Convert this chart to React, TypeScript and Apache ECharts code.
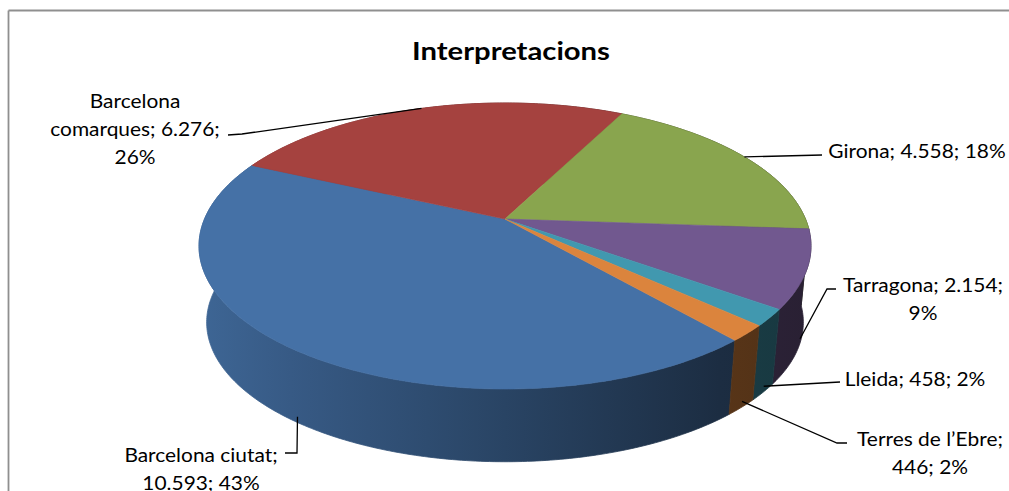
import { useEffect, useRef } from "react";
import * as echarts from "echarts";

// Interpretacions per demarcació
const categories = [
  "Barcelona ciutat",
  "Barcelona comarques",
  "Girona",
  "Tarragona",
  "Lleida",
  "Terres de l’Ebre",
];
const values = [10593, 6276, 4558, 2154, 458, 446];
const percents = [43, 26, 18, 9, 2, 2];
const sliceColors = ["#4571A6", "#A5423F", "#89A54E", "#71588F", "#4198AF", "#DB843D"];

// words after which each data label wraps onto a new line
const labelBreaks = [[2], [1, 3], [], [2], [], [3]];

// clockwise from 12 o'clock, in degrees
const FIRST_SLICE_ANGLE = 139;

// projective view of the pie: top disc and bottom disc
const geo = {
  cx: 505,
  cy: 219,
  sx: 300.5,
  sy: 137.9,
  k: 0.1888,
  bottomCy: 296,
  bottomScale: 0.975,
};

// label block centres and leader-line bends
const labelLayout = [
  { x: 201, y: 468, line: [[297, 453], [285, 453]] },
  { x: 135, y: 128.5, line: [[242, 134], [228, 135]] },
  { x: 917, y: 150, line: [[822, 155]] },
  { x: 923, y: 298.5, line: [[827, 289], [836, 289]] },
  { x: 915, y: 378, line: [[840, 382]] },
  { x: 930, y: 452, line: [[837, 443], [847, 443]] },
];

const FONT = "Lato, 'Open Sans', 'DejaVu Sans', sans-serif";

const fmt = (n: number) => String(n).replace(/\B(?=(\d{3})+(?!\d))/g, ".");

function project(angleDeg: number, level: number): [number, number] {
  const a = (angleDeg * Math.PI) / 180;
  const X = Math.cos(a);
  const Y = Math.sin(a);
  const d = 1 + geo.k * Y;
  const sc = 1 + (geo.bottomScale - 1) * level;
  const cy = geo.cy + (geo.bottomCy - geo.cy) * level;
  return [geo.cx + (geo.sx * sc * X) / d, cy - (geo.sy * sc * Y) / d];
}

function arc(a0: number, a1: number, level: number): [number, number][] {
  const n = Math.max(2, Math.ceil(Math.abs(a1 - a0) / 0.75));
  const pts: [number, number][] = [];
  for (let i = 0; i <= n; i++) pts.push(project(a0 + ((a1 - a0) * i) / n, level));
  return pts;
}

function shade(hex: string, f: number) {
  const v = parseInt(hex.slice(1), 16);
  const r = Math.round(((v >> 16) & 255) * f);
  const g = Math.round(((v >> 8) & 255) * f);
  const b = Math.round((v & 255) * f);
  return `rgb(${r},${g},${b})`;
}

function sideGradient(hex: string) {
  const left = geo.cx - geo.sx * 1.02;
  const right = geo.cx + geo.sx * 1.02;
  return new echarts.graphic.LinearGradient(
    left,
    0,
    right,
    0,
    [
      { offset: 0, color: shade(hex, 0.9) },
      { offset: 0.15, color: shade(hex, 0.8) },
      { offset: 0.5, color: shade(hex, 0.6) },
      { offset: 0.85, color: shade(hex, 0.4) },
      { offset: 1, color: shade(hex, 0.36) },
    ],
    true
  );
}

function labelText(i: number) {
  const words = `${categories[i]}; ${fmt(values[i])}; ${percents[i]}%`.split(" ");
  let out = "";
  words.forEach((w, j) => {
    out += w;
    if (j < words.length - 1) out += labelBreaks[i].includes(j + 1) ? "\n" : " ";
  });
  return out;
}

export default function App() {
  const ref = useRef<HTMLDivElement>(null);

  useEffect(() => {
    document.body.style.margin = "0";
    document.documentElement.style.overflow = "hidden";
    if (!ref.current) return;
    const chart = echarts.init(ref.current, undefined, { renderer: "svg" });

    const total = values.reduce((s, v) => s + v, 0);
    const slices: { a0: number; a1: number }[] = [];
    let start = 90 - FIRST_SLICE_ANGLE;
    values.forEach((v) => {
      const span = (v / total) * 360;
      slices.push({ a0: start, a1: start - span });
      start -= span;
    });

    const seriesData = values.map((v, i) => [i, v]);

    chart.setOption({
      animation: false,
      backgroundColor: "#ffffff",
      graphic: [
        {
          type: "line",
          z: 0,
          shape: { x1: 8.5, y1: 10.5, x2: 8.5, y2: 491 },
          style: { stroke: "#8f8f8f", lineWidth: 1.8 },
        },
        {
          type: "line",
          z: 0,
          shape: { x1: 8.5, y1: 10.5, x2: 1009, y2: 10.5 },
          style: { stroke: "#8f8f8f", lineWidth: 1.8 },
        },
        {
          type: "text",
          z: 10,
          x: 511,
          y: 50,
          scaleX: 1.17,
          style: {
            text: "Interpretacions",
            align: "center",
            verticalAlign: "middle",
            fontFamily: FONT,
            fontWeight: "bold",
            fontSize: 25,
            fill: "#000000",
          },
        },
      ],
      series: [
        {
          type: "custom",
          name: "sides",
          coordinateSystem: "none",
          z: 1,
          silent: true,
          data: seriesData,
          renderItem: (params: any) => {
            const i = params.dataIndex;
            const { a0, a1 } = slices[i];
            const pts = [...arc(a0, a1, 0), ...arc(a1, a0, 1)];
            const grad = sideGradient(sliceColors[i]);
            return {
              type: "polygon",
              shape: { points: pts },
              style: { fill: grad, stroke: grad, lineWidth: 0.8 },
            };
          },
        },
        {
          type: "custom",
          name: "tops",
          coordinateSystem: "none",
          z: 2,
          silent: true,
          data: seriesData,
          renderItem: (params: any) => {
            const i = params.dataIndex;
            const { a0, a1 } = slices[i];
            const pts = [[geo.cx, geo.cy], ...arc(a0, a1, 0)];
            return {
              type: "polygon",
              shape: { points: pts },
              style: { fill: sliceColors[i], stroke: sliceColors[i], lineWidth: 0.6 },
            };
          },
        },
        {
          type: "custom",
          name: "labels",
          coordinateSystem: "none",
          z: 3,
          silent: true,
          data: seriesData,
          renderItem: (params: any) => {
            const i = params.dataIndex;
            const { a0, a1 } = slices[i];
            const mid = (a0 + a1) / 2;
            const back = Math.sin((mid * Math.PI) / 180) >= 0;
            let anchor = project(mid, 0);
            if (!back) {
              const b = project(mid, 1);
              anchor = [anchor[0] + (b[0] - anchor[0]) * 0.92, anchor[1] + (b[1] - anchor[1]) * 0.92];
            }
            const lay = labelLayout[i];
            return {
              type: "group",
              children: [
                {
                  type: "polyline",
                  shape: { points: [anchor, ...lay.line] },
                  style: { stroke: "#000000", lineWidth: 1.3, fill: null },
                },
                {
                  type: "text",
                  x: lay.x,
                  y: lay.y,
                  scaleX: 1.1,
                  style: {
                    text: labelText(i),
                    align: "center",
                    verticalAlign: "middle",
                    fontFamily: FONT,
                    fontSize: 19,
                    lineHeight: 28,
                    fill: "#000000",
                  },
                },
              ],
            };
          },
        },
      ],
    });

    return () => chart.dispose();
  }, []);

  return <div ref={ref} style={{ width: 1009, height: 491 }} />;
}
